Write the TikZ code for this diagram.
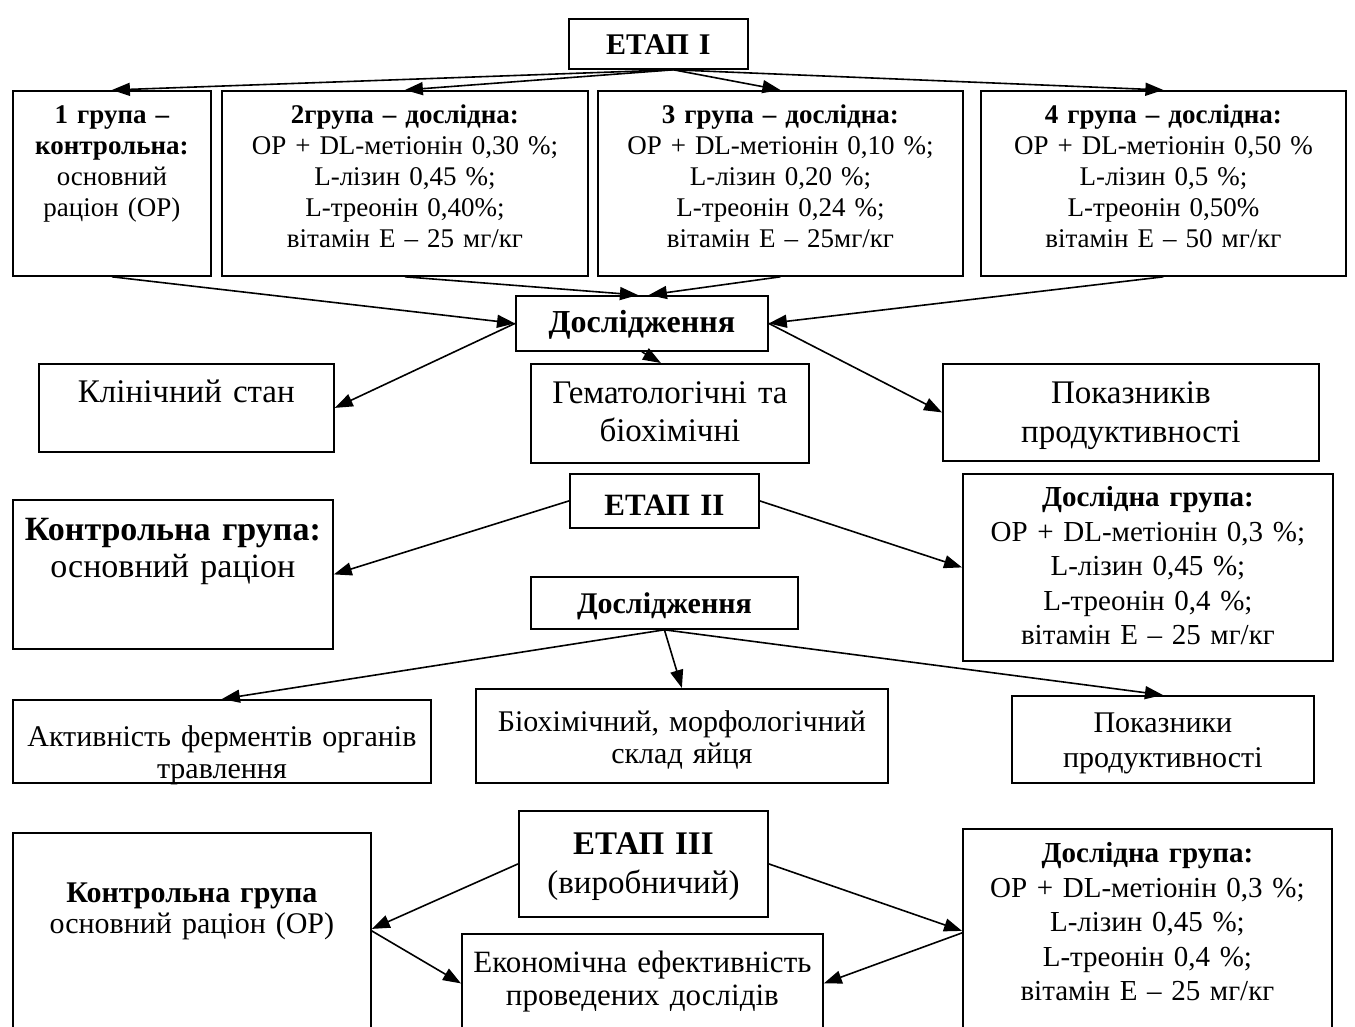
\documentclass[tikz,border=0pt]{standalone}
\usepackage{fontspec}
\setmainfont{Liberation Serif}
\usetikzlibrary{arrows.meta,calc}
\tikzstyle{box}=[draw, line width=1.8pt, anchor=north west, inner sep=0pt, align=center]
\tikzstyle{grp}=[box, text height=33pt, text depth=152pt, font=\fs{27}{31}]
\tikzstyle{expbox}=[box, text width=370pt, font=\fs{29}{34.5}]
\tikzstyle{arr}=[line width=1.6pt, -{Triangle[length=18pt,width=13pt]}]
\newcommand{\fs}[2]{\fontsize{#1}{#2}\selectfont}
\newcommand{\exptext}{\textbf{Дослідна група:}\\ ОР + DL-метіонін 0,3 \%;\\ L-лізин 0,45 \%;\\ L-треонін 0,4 \%;\\ вітамін Е – 25 мг/кг}

\begin{document}
\begin{tikzpicture}[x=1pt,y=-1pt]
\useasboundingbox (0,0) rectangle (1355,1026);
\clip (0,0) rectangle (1355,1026);
% stage I
\node[box, text width=179pt, text height=36pt, text depth=14pt, font=\fs{30}{35}\bfseries] (etap1) at (568,18) {ЕТАП І};
\node[grp, text width=198pt] (g1) at (12,90) {\textbf{1 група –}\\ \textbf{контрольна:}\\ основний\\ раціон (ОР)};
\node[grp, text width=366pt] (g2) at (221,90) {\textbf{2група – дослідна:}\\ ОР + DL-метіонін 0,30 \%;\\ L-лізин 0,45 \%;\\ L-треонін 0,40\%;\\ вітамін Е – 25 мг/кг};
\node[grp, text width=365pt] (g3) at (597,90) {\textbf{3 група – дослідна:}\\ ОР + DL-метіонін 0,10 \%;\\ L-лізин 0,20 \%;\\ L-треонін 0,24 \%;\\ вітамін Е – 25мг/кг};
\node[grp, text width=365pt] (g4) at (980,90) {\textbf{4 група – дослідна:}\\ ОР + DL-метіонін 0,50 \%\\ L-лізин 0,5 \%;\\ L-треонін 0,50\%\\ вітамін Е – 50 мг/кг};
\node[box, text width=252pt, text height=37pt, text depth=18pt, font=\fs{32}{36}\bfseries] (dosl1) at (515,295) {Дослідження};
\node[box, text width=295pt, text height=39pt, text depth=49pt, font=\fs{33}{38}] (klin) at (38,363) {Клінічний стан};
\node[box, text width=278pt, text height=40pt, text depth=59pt, font=\fs{33}{38}] (hem) at (530,363) {Гематологічні та\\ біохімічні};
\node[box, text width=376pt, text height=40pt, text depth=57pt, font=\fs{33}{39}] (pok1) at (942,363) {Показників\\ продуктивності};

\coordinate (e1out) at ($(etap1.south)+(15,0)$);
\foreach \g in {g1,g2,g3,g4}
	\draw[arr] (e1out) -- (\g.north);
\draw[arr] (g1.south) -- (dosl1.west);
\draw[arr] (g2.south) -- ($(dosl1.north)+(-4,0)$);
\draw[arr] (g3.south) -- ($(dosl1.north)+(7,0)$);
\draw[arr] (g4.south) -- (dosl1.east);
\draw[arr] (dosl1.west) -- (klin.east);
\draw[arr] (dosl1.south) -- ($(hem.north)+(-9,0)$);
\draw[arr] (dosl1.east) -- (pok1.west);

% stage II
\node[box, text width=189pt, text height=42pt, text depth=12pt, font=\fs{31}{36}\bfseries] (etap2) at (569,473) {ЕТАП ІІ};
\node[box, text width=320pt, text height=41pt, text depth=108pt, font=\fs{34}{37}] (kontr2) at (12,499) {\textbf{Контрольна група:}\\ основний раціон};
\node[expbox, text height=33pt, text depth=154pt] (exp2) at (962,473) {\exptext};
\node[box, text width=267pt, text height=37pt, text depth=15pt, font=\fs{30}{35}\bfseries] (dosl2) at (530,576) {Дослідження};
\node[box, text width=418pt, text height=47pt, text depth=36pt, font=\fs{30}{32}] (akt) at (12,699) {Активність ферментів органів\\ травлення};
\node[box, text width=412pt, text height=43pt, text depth=51pt, font=\fs{30}{32}] (bio) at (475,688) {Біохімічний, морфологічний\\ склад яйця};
\node[box, text width=302pt, text height=37pt, text depth=50pt, font=\fs{30}{35}] (pok2) at (1011,695) {Показники\\ продуктивності};

\draw[arr] (etap2.west) -- (kontr2.east);
\draw[arr] (etap2.east) -- (exp2.west);
\foreach \t in {akt,bio,pok2}
	\draw[arr] (dosl2.south) -- (\t.north);

% stage III
\node[box, text width=249pt, text height=44pt, text depth=62pt, font=\fs{33}{39}] (etap3) at (518,810) {\textbf{ЕТАП ІІІ}\\ (виробничий)};
\node[box, text width=358pt, text height=70pt, text depth=138pt, font=\fs{30}{31}] (kontr3) at (12,832) {\textbf{Контрольна група}\\ основний раціон (ОР)};
\node[box, text width=361pt, text height=39pt, text depth=68pt, font=\fs{31}{33}] (ekon) at (461,933) {Економічна ефективність\\ проведених дослідів};
\node[expbox, text width=369pt, text height=34pt, text depth=178pt] (exp3) at (962,828) {\exptext};

\draw[arr] (etap3.west) -- ($(kontr3.east)+(0,-8)$);
\draw[arr] ($(kontr3.east)+(0,-6)$) -- ($(ekon.west)+(0,-4)$);
\draw[arr] (etap3.east) -- ($(exp3.west)+(0,-4)$);
\draw[arr] ($(exp3.west)+(0,-2)$) -- ($(ekon.east)+(0,-4)$);
\end{tikzpicture}
\end{document}
